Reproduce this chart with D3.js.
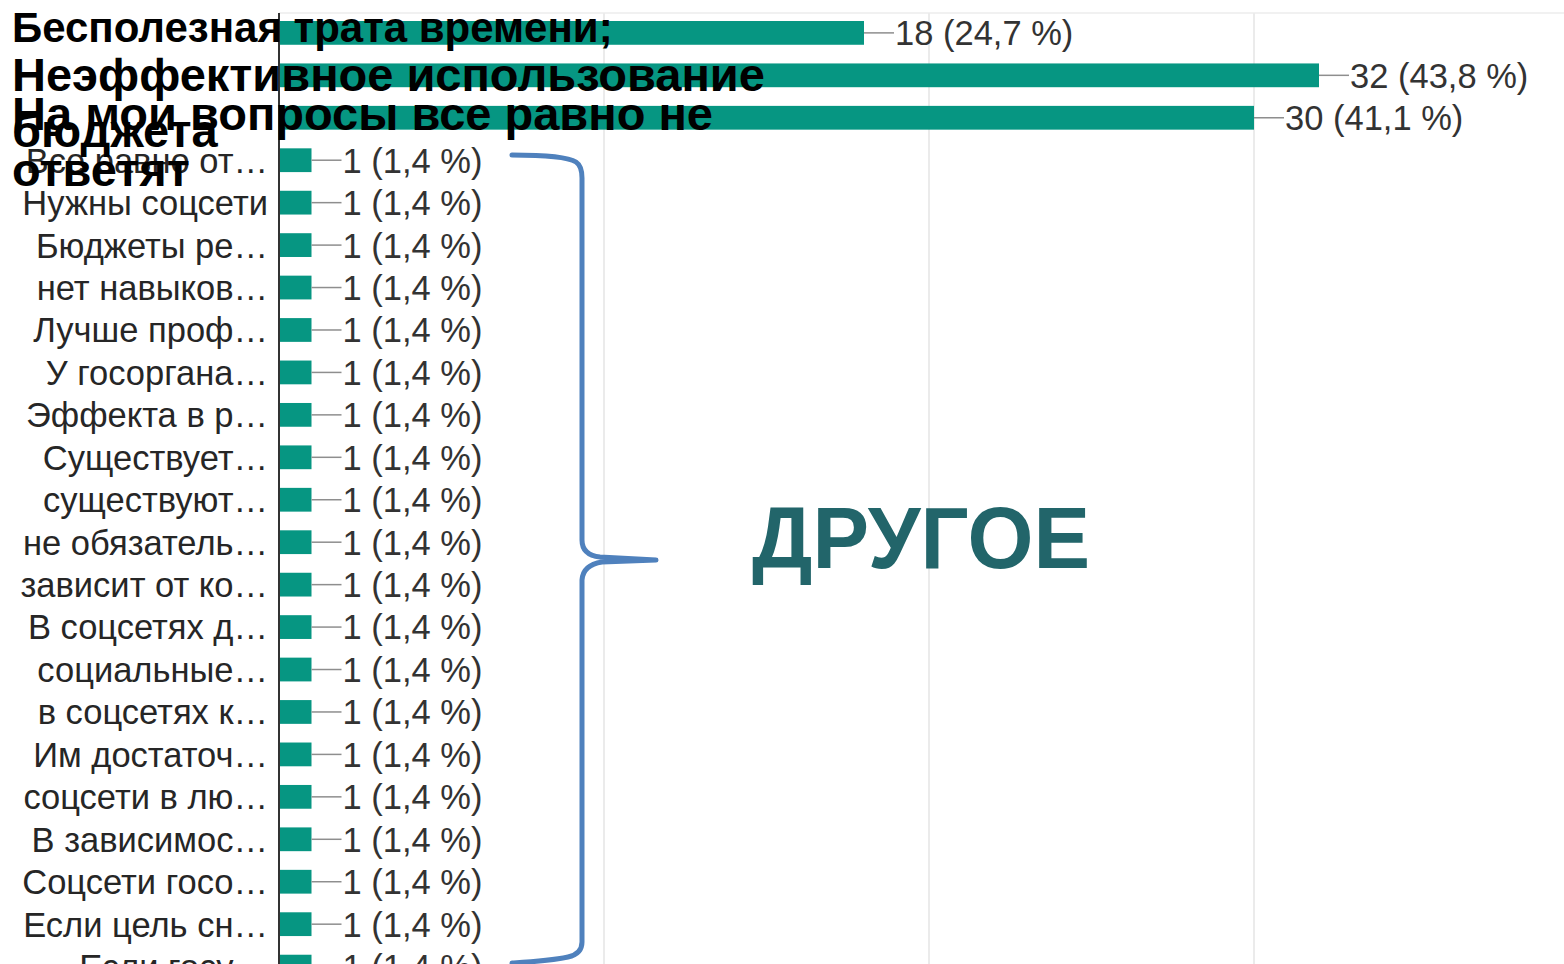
<!DOCTYPE html>
<html>
<head>
<meta charset="utf-8">
<script src="https://cdn.jsdelivr.net/npm/d3@7"></script>
<style>
  body { margin: 0; background: #fff; }
  svg { display: block; }
</style>
</head>
<body>
<svg id="chart"></svg>
<script>
const width = 1564;
const height = 964;

// categories, top to bottom (top three are replaced by the bold overlay labels)
const categories = [
    "Бесполезная трата времени;",
    "Неэффективное использование бюджета",
    "На мои вопросы все равно не ответят",
    "Все равно от…",
    "Нужны соцсети",
    "Бюджеты ре…",
    "нет навыков…",
    "Лучше проф…",
    "У госоргана…",
    "Эффекта в р…",
    "Существует…",
    "существуют…",
    "не обязатель…",
    "зависит от ко…",
    "В соцсетях д…",
    "социальные…",
    "в соцсетях к…",
    "Им достаточ…",
    "соцсети в лю…",
    "В зависимос…",
    "Соцсети госо…",
    "Если цель сн…",
    "Если госу…"
];
const counts = [18, 32, 30, 1, 1, 1, 1, 1, 1, 1, 1, 1, 1, 1, 1, 1, 1, 1, 1, 1, 1, 1, 1];
const percents = ["24,7", "43,8", "41,1", "1,4", "1,4", "1,4", "1,4", "1,4", "1,4", "1,4",
    "1,4", "1,4", "1,4", "1,4", "1,4", "1,4", "1,4", "1,4", "1,4", "1,4", "1,4", "1,4", "1,4"];
const gridTicks = [10, 20, 30];

// bold overlay labels for the first three rows
const overlayLines = [
    ["Бесполезная трата времени;"],
    ["Неэффективное использование", "бюджета"],
    ["На мои вопросы все равно не", "ответят"]
];
const overlayLabel = "ДРУГОЕ";

const data = categories.map((c, i) => ({ i: i, name: c, count: counts[i], pct: percents[i] }));

const svg = d3.select("#chart")
    .attr("width", width)
    .attr("height", height);

const x = d3.scaleLinear().domain([0, 40]).range([279, 1579]);
const y = d3.scaleBand().domain(d3.range(categories.length))
    .range([21, 978.5]).paddingInner(0.44).paddingOuter(0);

const plotTop = 13;

// grid
svg.append("line")
    .attr("x1", x(0)).attr("x2", width)
    .attr("y1", plotTop).attr("y2", plotTop)
    .attr("stroke", "#ececec").attr("stroke-width", 1.5);

svg.selectAll(".grid").data(gridTicks).enter()
    .append("line")
    .attr("class", "grid")
    .attr("x1", d => x(d)).attr("x2", d => x(d))
    .attr("y1", plotTop).attr("y2", height)
    .attr("stroke", "#ebebeb").attr("stroke-width", 2);

// bars
svg.selectAll(".bar").data(data).enter()
    .append("rect")
    .attr("class", "bar")
    .attr("x", x(0))
    .attr("y", d => y(d.i))
    .attr("width", d => x(d.count) - x(0))
    .attr("height", y.bandwidth())
    .attr("fill", "#069682");

// axis line
svg.append("line")
    .attr("x1", x(0)).attr("x2", x(0))
    .attr("y1", plotTop).attr("y2", height)
    .attr("stroke", "#333").attr("stroke-width", 2);

// leader lines + value labels
svg.selectAll(".leader").data(data).enter()
    .append("line")
    .attr("class", "leader")
    .attr("x1", d => x(d.count)).attr("x2", d => x(d.count) + 30)
    .attr("y1", d => y(d.i) + y.bandwidth() / 2)
    .attr("y2", d => y(d.i) + y.bandwidth() / 2)
    .attr("stroke", "#8e8e8e").attr("stroke-width", 1.5);

svg.selectAll(".value").data(data).enter()
    .append("text")
    .attr("class", "value")
    .attr("x", d => x(d.count) + 31)
    .attr("y", d => y(d.i) + y.bandwidth() / 2)
    .attr("dy", "0.36em")
    .attr("font-family", "Arial, 'Liberation Sans', sans-serif")
    .attr("font-size", 34.5)
    .attr("fill", "#333")
    .text(d => d.count + " (" + d.pct + " %)");

// category labels (rows below the overlay)
svg.selectAll(".label").data(data.filter(d => d.i >= overlayLines.length)).enter()
    .append("text")
    .attr("class", "label")
    .attr("x", 268)
    .attr("y", d => y(d.i) + y.bandwidth() / 2)
    .attr("dy", "0.36em")
    .attr("text-anchor", "end")
    .attr("font-family", "Arial, 'Liberation Sans', sans-serif")
    .attr("font-size", 34.5)
    .attr("fill", "#262626")
    .text(d => d.name);

// bold overlay labels
const overlayShift = [9, 16, 12];
const overlaySize = [42, 47, 47];
const overlay = svg.selectAll(".overlay").data(overlayLines).enter()
    .append("text")
    .attr("class", "overlay")
    .attr("font-family", "Arial, 'Liberation Sans', sans-serif")
    .attr("font-weight", "bold")
    .attr("font-size", (d, i) => overlaySize[i])
    .attr("fill", "#000");

overlay.selectAll("tspan").data((d, i) => d.map((t, k) => ({ t: t, k: k, row: i }))).enter()
    .append("tspan")
    .attr("x", 12)
    .attr("y", d => y(d.row) + y.bandwidth() / 2 + overlayShift[d.row] + d.k * 56)
    .text(d => d.t);

// brace around "other" answers
svg.append("path")
    .attr("d", "M512,155 C545,155 568,157 576,162 Q582,166 582,178 L582,540 Q582,555 600,557 L656,560 " +
        "M656,560 L602,562 Q583,565 582,580 L582,942 Q582,954 568,957 C550,961 530,962 512,963")
    .attr("fill", "none")
    .attr("stroke", "#4f81bd")
    .attr("stroke-width", 5)
    .attr("stroke-linecap", "round")
    .attr("stroke-linejoin", "round");

svg.append("text")
    .attr("x", 752)
    .attr("y", 568)
    .attr("font-family", "Arial, 'Liberation Sans', sans-serif")
    .attr("font-weight", "bold")
    .attr("font-size", 88)
    .attr("textLength", 338)
    .attr("lengthAdjust", "spacingAndGlyphs")
    .attr("fill", "#22656a")
    .text(overlayLabel);
</script>
</body>
</html>
